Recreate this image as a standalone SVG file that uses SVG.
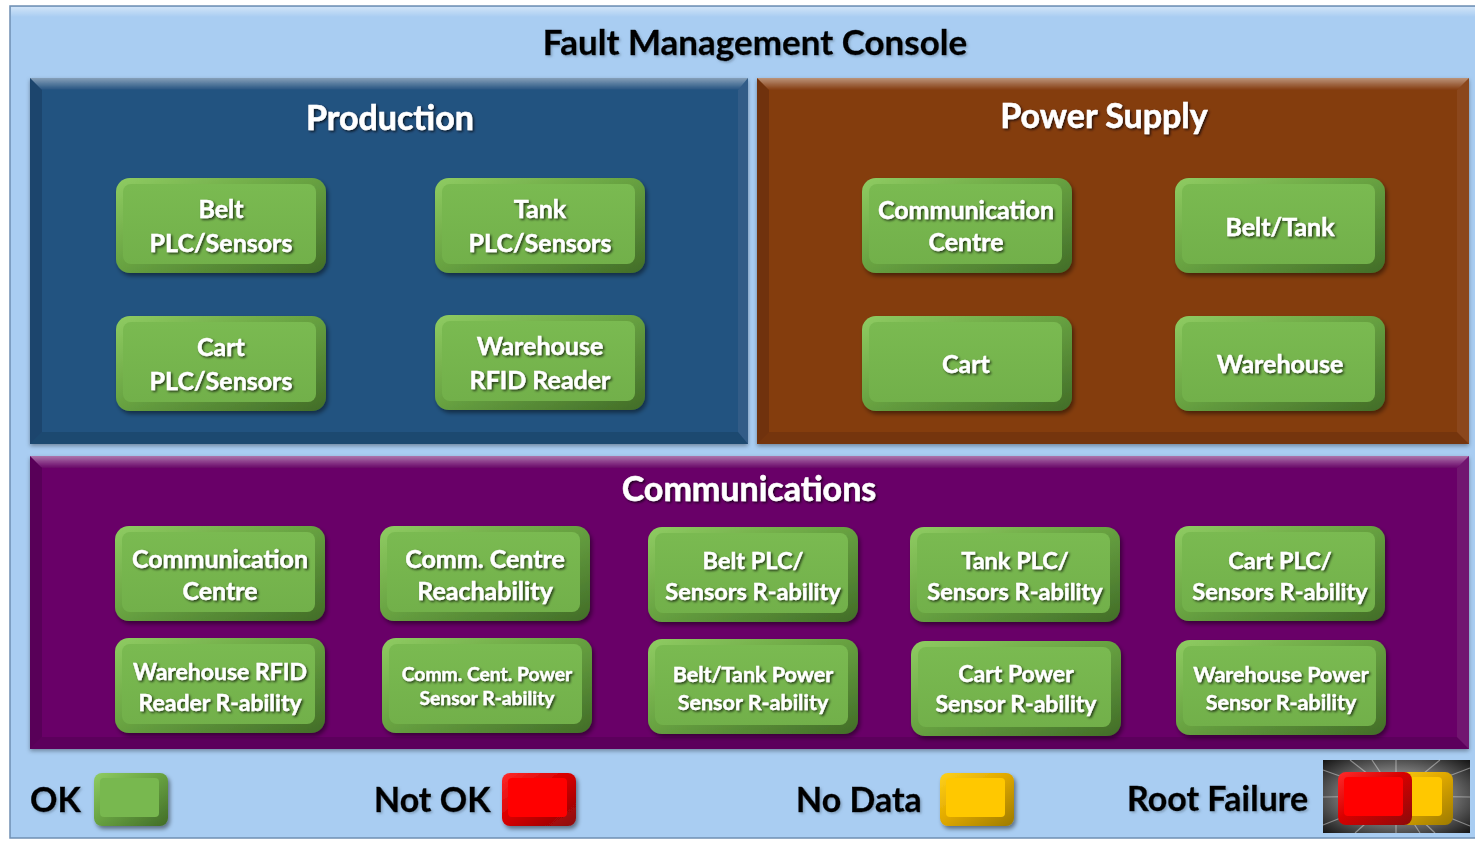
<svg xmlns="http://www.w3.org/2000/svg" xmlns:xlink="http://www.w3.org/1999/xlink" width="1475" height="841" viewBox="0 0 1475 841">
<style>
.title{font-family:Lato,"Liberation Sans",sans-serif;font-weight:700;fill:#000;text-anchor:middle;filter:url(#lshadow)}
.ptitle{font-family:Lato,"Liberation Sans",sans-serif;font-weight:700;fill:#fff;text-anchor:middle;font-size:34px;stroke:#fff;stroke-width:0.5;filter:url(#tshadow)}
.nt{font-family:Lato,"Liberation Sans",sans-serif;font-weight:700;fill:#fff;text-anchor:middle;font-size:25px;stroke:#fff;stroke-width:0.4;filter:url(#tshadow)}
.ns{font-size:19.3px}
.nm{font-size:21.5px}
.n23{font-size:23px}
.n24{font-size:23.5px}
.lg{font-family:Lato,"Liberation Sans",sans-serif;font-weight:700;fill:#000;font-size:34px;stroke:#000;stroke-width:0.4;filter:url(#lshadow)}
</style>
<defs>
<filter id="tshadow" x="-10%" y="-20%" width="120%" height="150%"><feDropShadow dx="1.5" dy="1.5" stdDeviation="1" flood-color="#000" flood-opacity="0.7"/></filter>
<filter id="lshadow" x="-10%" y="-20%" width="120%" height="150%"><feDropShadow dx="1.5" dy="1.5" stdDeviation="1" flood-color="#5a6f86" flood-opacity="0.5"/></filter>
<filter id="bshadow" x="-10%" y="-10%" width="125%" height="130%"><feDropShadow dx="2" dy="3" stdDeviation="2" flood-color="#000" flood-opacity="0.45"/></filter>
<filter id="pshadow" x="-5%" y="-5%" width="110%" height="112%"><feDropShadow dx="0" dy="2" stdDeviation="2" flood-color="#000" flood-opacity="0.35"/></filter>
<linearGradient id="gEdge" x1="0" y1="0" x2="1" y2="1"><stop offset="0" stop-color="#8fcc62"/><stop offset="0.45" stop-color="#6aa543"/><stop offset="1" stop-color="#416c27"/></linearGradient>
<linearGradient id="gFace" x1="0" y1="0" x2="0" y2="1"><stop offset="0" stop-color="#7aba51"/><stop offset="1" stop-color="#72b04a"/></linearGradient>
<linearGradient id="rEdge" x1="0" y1="0" x2="1" y2="1"><stop offset="0" stop-color="#ff2a2a"/><stop offset="0.45" stop-color="#d80000"/><stop offset="1" stop-color="#8a0a0a"/></linearGradient>
<linearGradient id="yEdge" x1="0" y1="0" x2="1" y2="1"><stop offset="0" stop-color="#ffd21a"/><stop offset="0.45" stop-color="#e2aa00"/><stop offset="1" stop-color="#9c7a00"/></linearGradient>
<linearGradient id="topHi" x1="0" y1="0" x2="0" y2="1"><stop offset="0" stop-color="#fff" stop-opacity="0.45"/><stop offset="1" stop-color="#fff" stop-opacity="0"/></linearGradient>
<radialGradient id="burst" cx="0.5" cy="0.5" r="0.7"><stop offset="0" stop-color="#f4f4f4"/><stop offset="0.3" stop-color="#a0a0a0"/><stop offset="1" stop-color="#161616"/></radialGradient>
<g id="btn">
<rect x="0" y="0" width="210" height="95" rx="14" fill="url(#gEdge)" filter="url(#bshadow)"/>
<rect x="7" y="6" width="193" height="80" rx="8" fill="url(#gFace)"/>
</g>
<g id="lgG"><rect x="0" y="0" width="74" height="53" rx="8" fill="url(#gEdge)" filter="url(#bshadow)"/><rect x="6" y="5" width="59" height="39" rx="4" fill="#78b84f"/></g>
<g id="lgR"><rect x="0" y="0" width="74" height="53" rx="8" fill="url(#rEdge)" filter="url(#bshadow)"/><rect x="6" y="5" width="59" height="39" rx="4" fill="#ff0000"/></g>
<g id="lgY"><rect x="0" y="0" width="74" height="53" rx="8" fill="url(#yEdge)" filter="url(#bshadow)"/><rect x="6" y="5" width="59" height="39" rx="4" fill="#ffc800"/></g>
</defs>

<!-- Console background -->
<g id="console">
<rect x="10" y="6" width="1470" height="832" fill="#a9cdf2" stroke="#6f8fb3" stroke-width="1.5"/>
<rect x="11" y="7" width="1470" height="10" fill="url(#topHi)"/>
<text class="title" x="755" y="55" font-size="35" stroke="#000" stroke-width="0.4">Fault Management Console</text>
</g>

<!-- Panels -->
<g id="panel-production" filter="url(#pshadow)">
<rect x="30" y="78" width="718" height="366" fill="#245280"/>
<polygon points="30,78 748,78 738,90 42,90" fill="url(#topHi)"/>
<polygon points="30,78 42,90 42,432 30,444" fill="#000" opacity="0.15"/>
<polygon points="748,78 738,90 738,432 748,444" fill="#fff" opacity="0.06"/>
<polygon points="30,444 42,432 738,432 748,444" fill="#000" opacity="0.12"/>
<text class="ptitle" x="390" y="130">Production</text>
</g>
<g id="panel-power" filter="url(#pshadow)">
<rect x="757" y="78" width="712" height="366" fill="#843c0f"/>
<polygon points="757,78 1469,78 1457,90 769,90" fill="url(#topHi)"/>
<polygon points="757,78 769,90 769,432 757,444" fill="#000" opacity="0.15"/>
<polygon points="1469,78 1457,90 1457,432 1469,444" fill="#fff" opacity="0.06"/>
<polygon points="757,444 769,432 1457,432 1469,444" fill="#000" opacity="0.12"/>
<text class="ptitle" x="1104" y="128">Power Supply</text>
</g>
<g id="panel-communications" filter="url(#pshadow)">
<rect x="30" y="456" width="1439" height="293" fill="#690468"/>
<polygon points="30,456 1469,456 1457,468 42,468" fill="url(#topHi)"/>
<polygon points="30,456 42,468 42,737 30,749" fill="#000" opacity="0.15"/>
<polygon points="1469,456 1457,468 1457,737 1469,749" fill="#fff" opacity="0.06"/>
<polygon points="30,749 42,737 1457,737 1469,749" fill="#000" opacity="0.12"/>
<text class="ptitle" x="749" y="501">Communications</text>
</g>

<!-- Production nodes -->
<g id="prod-belt" transform="translate(116,178)"><use href="#btn"/><text class="nt" x="105" y="40">Belt</text><text class="nt" x="105" y="74">PLC/Sensors</text></g>
<g id="prod-tank" transform="translate(435,178)"><use href="#btn"/><text class="nt" x="105" y="40">Tank</text><text class="nt" x="105" y="74">PLC/Sensors</text></g>
<g id="prod-cart" transform="translate(116,316)"><use href="#btn"/><text class="nt" x="105" y="40">Cart</text><text class="nt" x="105" y="74">PLC/Sensors</text></g>
<g id="prod-warehouse" transform="translate(435,315)"><use href="#btn"/><text class="nt" x="105" y="40">Warehouse</text><text class="nt" x="105" y="74">RFID Reader</text></g>

<!-- Power Supply nodes -->
<g id="pwr-commcentre" transform="translate(862,178)"><use href="#btn"/><text class="nt" x="104" y="41">Communication</text><text class="nt" x="104" y="73">Centre</text></g>
<g id="pwr-belttank" transform="translate(1175,178)"><use href="#btn"/><text class="nt" x="105" y="58">Belt/Tank</text></g>
<g id="pwr-cart" transform="translate(862,316)"><use href="#btn"/><text class="nt" x="104" y="57">Cart</text></g>
<g id="pwr-warehouse" transform="translate(1175,316)"><use href="#btn"/><text class="nt" x="105" y="57">Warehouse</text></g>

<!-- Communications nodes row 1 -->
<g id="com-commcentre" transform="translate(115,526)"><use href="#btn"/><text class="nt" x="105" y="42">Communication</text><text class="nt" x="105" y="74">Centre</text></g>
<g id="com-reach" transform="translate(380,526)"><use href="#btn"/><text class="nt" x="105" y="42">Comm. Centre</text><text class="nt" x="105" y="74">Reachability</text></g>
<g id="com-belt" transform="translate(648,527)"><use href="#btn"/><text class="nt n24" x="105" y="42">Belt PLC/</text><text class="nt n24" x="105" y="73">Sensors R-ability</text></g>
<g id="com-tank" transform="translate(910,527)"><use href="#btn"/><text class="nt n24" x="105" y="42">Tank PLC/</text><text class="nt n24" x="105" y="73">Sensors R-ability</text></g>
<g id="com-cart" transform="translate(1175,526)"><use href="#btn"/><text class="nt n24" x="105" y="43">Cart PLC/</text><text class="nt n24" x="105" y="74">Sensors R-ability</text></g>

<!-- Communications nodes row 2 -->
<g id="com-whrfid" transform="translate(115,638)"><use href="#btn"/><text class="nt n23" x="105" y="42">Warehouse RFID</text><text class="nt n23" x="105" y="73">Reader R-ability</text></g>
<g id="com-ccpower" transform="translate(382,638)"><use href="#btn"/><text class="nt ns" x="105" y="43">Comm. Cent. Power</text><text class="nt ns" x="105" y="67">Sensor R-ability</text></g>
<g id="com-btpower" transform="translate(648,639)"><use href="#btn"/><text class="nt nm" x="105" y="43">Belt/Tank Power</text><text class="nt nm" x="105" y="71">Sensor R-ability</text></g>
<g id="com-cartpower" transform="translate(911,641)"><use href="#btn"/><text class="nt n23" x="105" y="41">Cart Power</text><text class="nt n23" x="105" y="71">Sensor R-ability</text></g>
<g id="com-whpower" transform="translate(1176,640)"><use href="#btn"/><text class="nt nm" x="105" y="42">Warehouse Power</text><text class="nt nm" x="105" y="70">Sensor R-ability</text></g>

<!-- Legend -->
<g id="legend-ok"><text class="lg" x="30" y="812">OK</text><use href="#lgG" x="94" y="773"/></g>
<g id="legend-notok"><text class="lg" x="374" y="812">Not OK</text><use href="#lgR" x="502" y="773"/></g>
<g id="legend-nodata"><text class="lg" x="796" y="812">No Data</text><use href="#lgY" x="940" y="773"/></g>
<g id="legend-root">
<text class="lg" x="1127" y="811">Root Failure</text>
<rect x="1323" y="760" width="147" height="73" fill="url(#burst)"/>
<g stroke="#fff" stroke-opacity="0.4" stroke-width="1.2">
<line x1="1396" y1="796" x2="1323" y2="770"/><line x1="1396" y1="796" x2="1323" y2="825"/>
<line x1="1396" y1="796" x2="1470" y2="768"/><line x1="1396" y1="796" x2="1470" y2="826"/>
<line x1="1396" y1="796" x2="1350" y2="760"/><line x1="1396" y1="796" x2="1440" y2="760"/>
<line x1="1396" y1="796" x2="1355" y2="833"/><line x1="1396" y1="796" x2="1435" y2="833"/>
<line x1="1396" y1="796" x2="1396" y2="760"/><line x1="1396" y1="796" x2="1396" y2="833"/>
<line x1="1396" y1="796" x2="1323" y2="797"/><line x1="1396" y1="796" x2="1470" y2="797"/>
<line x1="1396" y1="796" x2="1372" y2="760"/><line x1="1396" y1="796" x2="1420" y2="833"/>
</g>
<rect x="1380" y="772" width="73" height="53" rx="8" fill="url(#yEdge)"/>
<rect x="1386" y="777" width="56" height="39" rx="4" fill="#ffc800"/>
<rect x="1338" y="772" width="74" height="53" rx="8" fill="url(#rEdge)"/>
<rect x="1344" y="777" width="59" height="39" rx="4" fill="#ff0000"/>
</g>
</svg>
